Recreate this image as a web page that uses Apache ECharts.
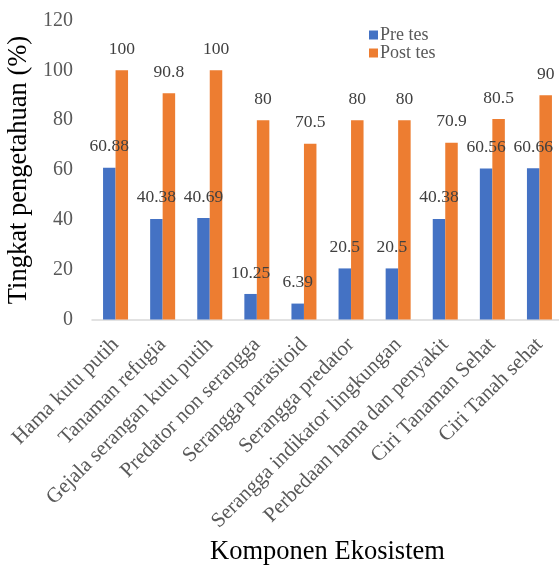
<!DOCTYPE html>
<html>
<head>
<meta charset="utf-8">
<script src="https://cdn.jsdelivr.net/npm/echarts@6/dist/echarts.min.js"></script>
<style>
  html, body { margin: 0; padding: 0; background: #fff; }
  #chart { width: 559px; height: 565px; }
</style>
</head>
<body>
<div id="chart"></div>
<script>
// Knowledge scores per ecosystem component, before and after the test
const categories = [
  'Hama kutu putih',
  'Tanaman refugia',
  'Gejala serangan kutu putih',
  'Predator non serangga',
  'Serangga parasitoid',
  'Serangga predator',
  'Serangga indikator lingkungan',
  'Perbedaan hama dan penyakit',
  'Ciri Tanaman Sehat',
  'Ciri Tanah sehat'
];
const preTes = [60.88, 40.38, 40.69, 10.25, 6.39, 20.5, 20.5, 40.38, 60.56, 60.66];
const postTes = [100, 90.8, 100, 80, 70.5, 80, 80, 70.9, 80.5, 90];
const seriesNames = ['Pre tes', 'Post tes'];

const serif = '"Liberation Serif", "Times New Roman", serif';

const chart = echarts.init(document.getElementById('chart'), null, { renderer: 'canvas' });

const labelStyle = {
  show: true,
  position: 'top',
  distance: 12,
  fontFamily: serif,
  fontSize: 17.5,
  color: '#404040'
};

chart.setOption({
  animation: false,
  textStyle: { fontFamily: serif },
  grid: {
    left: 92, top: 20.5, width: 471, height: 299,
    containLabel: false,
    outerBoundsMode: 'none'
  },
  legend: {
    orient: 'vertical',
    left: 364,
    top: 21,
    itemWidth: 9,
    itemHeight: 9,
    itemGap: 0,
    icon: 'rect',
    textStyle: { fontFamily: serif, fontSize: 18, color: '#595959', padding: [0, 0, 0, -3] },
    data: seriesNames
  },
  xAxis: {
    type: 'category',
    data: categories,
    name: 'Komponen Ekosistem',
    nameLocation: 'middle',
    nameGap: 219,
    nameTextStyle: { fontFamily: serif, fontSize: 26.5, color: '#000' },
    axisLine: { lineStyle: { color: '#d9d9d9', width: 1.5 } },
    axisTick: { show: false },
    axisLabel: {
      rotate: 45,
      interval: 0,
      margin: 22,
      fontFamily: serif,
      fontSize: 21,
      color: '#595959'
    }
  },
  yAxis: {
    type: 'value',
    min: 0,
    max: 120,
    interval: 20,
    name: 'Tingkat pengetahuan (%)',
    nameLocation: 'middle',
    nameGap: 51,
    nameTextStyle: { fontFamily: serif, fontSize: 26.5, color: '#000' },
    axisLine: { show: false },
    axisTick: { show: false },
    splitLine: { show: false },
    axisLabel: { fontFamily: serif, fontSize: 20, color: '#595959', margin: 19 }
  },
  series: [
    {
      name: seriesNames[0],
      type: 'bar',
      data: preTes,
      barWidth: 12.5,
      barGap: '0%',
      itemStyle: { color: '#4472C4' },
      label: labelStyle
    },
    {
      name: seriesNames[1],
      type: 'bar',
      data: postTes,
      barWidth: 12.5,
      barGap: '0%',
      itemStyle: { color: '#ED7D31' },
      label: labelStyle
    }
  ]
});
</script>
</body>
</html>
